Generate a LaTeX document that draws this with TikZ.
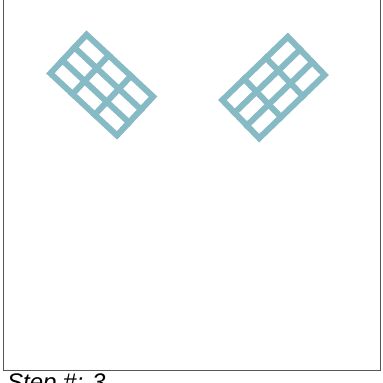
\documentclass[tikz,border=0pt]{standalone}
\usepackage{fontspec}
\setmainfont{Liberation Sans}
\definecolor{gridcol}{RGB}{134,186,197}
\definecolor{framecol}{RGB}{85,85,85}
\tikzset{
  gridline/.style={draw=gridcol, line width=6pt, line join=miter, line cap=rect},
  framebox/.style={draw=framecol, line width=1pt},
  caption/.style={inner sep=0pt, anchor=base west, font=\fontsize{24}{28}\selectfont\itshape}
}
\newcommand{\cellgrid}{%
  \draw[gridline] (-45.5,-26.5) rectangle (45.5,26.5);
  \draw[gridline] (-15.17,-26.5) -- (-15.17,26.5);
  \draw[gridline] (15.17,-26.5) -- (15.17,26.5);
  \draw[gridline] (-45.5,-8.83) -- (45.5,-8.83);
  \draw[gridline] (-45.5,8.83) -- (45.5,8.83);
}
\begin{document}
\begin{tikzpicture}[x=1pt,y=-1pt]
\useasboundingbox (0,0) rectangle (383,383);
\draw[framebox] (3,-5) -- (3,370) -- (380,370) -- (380,-5);
\begin{scope}[shift={(101.75,85)},rotate=-43]
\cellgrid
\end{scope}
\begin{scope}[shift={(273.5,87.5)},rotate=44]
\cellgrid
\end{scope}
\node[caption] (cap) at (7,390) {Step \#: 3};
\end{tikzpicture}
\end{document}
